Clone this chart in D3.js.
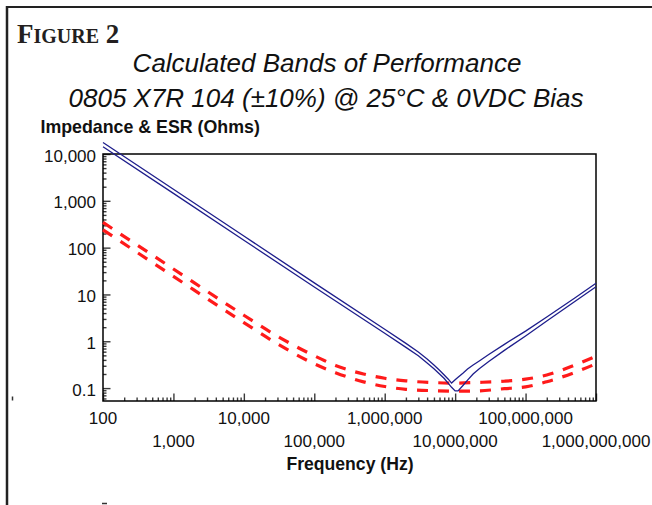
<!DOCTYPE html>
<html>
<head>
<meta charset="utf-8">
<script src="https://cdn.jsdelivr.net/npm/d3@7"></script>
<style>
  body { margin: 0; background: #fff; }
  svg { display: block; }
</style>
</head>
<body>
<div id="chart"></div>
<script>
const freqZ = [1e2, 1e3, 1e4, 1e5, 1e6, 2e6, 3e6, 4e6, 5e6, 6e6, 7e6, 8e6, 8.9e6, 1e7, 1.1e7,
  1.3e7, 1.5e7, 1.8e7, 2.2e7, 3e7, 5e7, 1e8, 2e8, 5e8, 1e9];
const zHigh = [17600, 1770, 177, 17.7, 1.8, 0.9, 0.59, 0.42, 0.31, 0.24, 0.19, 0.155, 0.128, 0.15, 0.17,
  0.21, 0.255, 0.31, 0.38, 0.52, 0.86, 1.65, 3.3, 8.4, 17.3];
const zLow = [14300, 1440, 144, 14.4, 1.48, 0.74, 0.49, 0.345, 0.26, 0.2, 0.16, 0.126, 0.104, 0.087, 0.087,
  0.115, 0.148, 0.2, 0.26, 0.37, 0.64, 1.3, 2.7, 7.06, 14.6];

// ESR bands
const freqEsr = [1e2, 1e3, 1e4, 3e4, 1e5, 2e5, 5e5, 1e6, 2e6, 5e6, 1e7, 2e7, 5e7, 1e8, 2e8, 5e8, 1e9];
const esrHigh = [345, 35, 3.6, 1.28, 0.49, 0.305, 0.2, 0.162, 0.143, 0.131, 0.128, 0.132, 0.14, 0.155, 0.19, 0.31, 0.48];
const esrLow = [240, 24.3, 2.5, 0.88, 0.33, 0.213, 0.136, 0.108, 0.094, 0.088, 0.086, 0.087, 0.097, 0.106, 0.137, 0.216, 0.33];

const xTicks = [1e2, 1e3, 1e4, 1e5, 1e6, 1e7, 1e8, 1e9];
const xLabels = ["100", "1,000", "10,000", "100,000", "1,000,000", "10,000,000", "100,000,000", "1,000,000,000"];
const yTicks = [0.1, 1, 10, 100, 1000, 10000];
const yLabels = ["0.1", "1", "10", "100", "1,000", "10,000"];

const width = 652, height = 505;
const plot = { left: 103, right: 596, top: 154, bottom: 401 };
const sans = "'Liberation Sans', Arial, Helvetica, sans-serif";

const svg = d3.select("#chart").append("svg")
  .attr("width", width)
  .attr("height", height);

// page frame
svg.append("line").attr("x1", 7).attr("x2", 7).attr("y1", 6).attr("y2", height)
  .attr("stroke", "#222").attr("stroke-width", 2.5);
svg.append("line").attr("x1", 6).attr("x2", width).attr("y1", 7).attr("y2", 7)
  .attr("stroke", "#222").attr("stroke-width", 2);
// stray marks
svg.append("line").attr("x1", 12.5).attr("x2", 12.5).attr("y1", 396.5).attr("y2", 400.5)
  .attr("stroke", "#333").attr("stroke-width", 1.5);
svg.append("line").attr("x1", 102).attr("x2", 107).attr("y1", 503.5).attr("y2", 503.5)
  .attr("stroke", "#333").attr("stroke-width", 1.5);

// FIGURE 2 heading
const fig = svg.append("text")
  .attr("x", 17).attr("y", 43)
  .attr("font-family", "'Liberation Serif', 'Times New Roman', serif")
  .attr("font-weight", "bold")
  .attr("fill", "#231f20");
fig.append("tspan").attr("font-size", 27).text("F");
fig.append("tspan").attr("font-size", 20).text("IGURE");
fig.append("tspan").attr("font-size", 27).text(" 2");

// titles
svg.append("text")
  .attr("x", 327).attr("y", 72)
  .attr("text-anchor", "middle")
  .attr("font-family", sans).attr("font-style", "italic").attr("font-size", 26)
  .attr("fill", "#111")
  .text("Calculated Bands of Performance");
svg.append("text")
  .attr("x", 326).attr("y", 107)
  .attr("text-anchor", "middle")
  .attr("font-family", sans).attr("font-style", "italic").attr("font-size", 26)
  .attr("fill", "#111")
  .text("0805 X7R 104 (\u00b110%) @ 25\u00b0C & 0VDC Bias");

svg.append("text")
  .attr("x", 40.5).attr("y", 132.5)
  .attr("font-family", sans).attr("font-weight", "bold").attr("font-size", 17.8)
  .attr("fill", "#111")
  .text("Impedance & ESR (Ohms)");

const x = d3.scaleLog().domain([1e2, 1e9]).range([plot.left, plot.right]);
const y = d3.scaleLog().domain([0.053, 10000]).range([plot.bottom, plot.top]);

// minor tick values
const xMinor = [];
for (let d = 1e2; d < 1e9; d *= 10) {
  for (let k = 2; k <= 9; k++) xMinor.push(d * k);
}
const yMinor = [];
for (let d = 0.01; d < 10000; d *= 10) {
  for (let k = 2; k <= 9; k++) {
    const v = d * k;
    if (v >= 0.053 && v <= 10000) yMinor.push(v);
  }
}

const tickColor = "#3a3a3a";

function styleAxis(g) {
  g.select(".domain").remove();
  g.selectAll(".tick line").attr("stroke", tickColor).attr("stroke-width", 1.4);
  g.selectAll(".tick text").remove();
}

svg.append("g")
  .attr("transform", `translate(0,${plot.bottom})`)
  .call(d3.axisBottom(x).tickValues(xMinor).tickSize(-3.5).tickFormat(""))
  .call(styleAxis);
svg.append("g")
  .attr("transform", `translate(0,${plot.bottom})`)
  .call(d3.axisBottom(x).tickValues(xTicks).tickSize(-7.5).tickFormat(""))
  .call(styleAxis);
svg.append("g")
  .attr("transform", `translate(${plot.left},0)`)
  .call(d3.axisLeft(y).tickValues(yMinor).tickSize(-3.5).tickFormat(""))
  .call(styleAxis);
svg.append("g")
  .attr("transform", `translate(${plot.left},0)`)
  .call(d3.axisLeft(y).tickValues(yTicks).tickSize(-7.5).tickFormat(""))
  .call(styleAxis);

// plot frame
svg.append("rect")
  .attr("x", plot.left).attr("y", plot.top)
  .attr("width", plot.right - plot.left).attr("height", plot.bottom - plot.top)
  .attr("fill", "none").attr("stroke", "#000").attr("stroke-width", 1.5);

// tick labels
svg.append("g").selectAll("text")
  .data(yTicks)
  .enter().append("text")
  .attr("x", 96)
  .attr("y", d => y(d) + 7.5)
  .attr("text-anchor", "end")
  .attr("font-family", sans).attr("font-size", 17)
  .attr("fill", "#111")
  .text((d, i) => yLabels[i]);

svg.append("g").selectAll("text")
  .data(xTicks)
  .enter().append("text")
  .attr("x", d => x(d))
  .attr("y", (d, i) => i % 2 === 0 ? 423.5 : 447)
  .attr("text-anchor", "middle")
  .attr("font-family", sans).attr("font-size", 17)
  .attr("fill", "#111")
  .text((d, i) => xLabels[i]);

svg.append("text")
  .attr("x", 350).attr("y", 469.5)
  .attr("text-anchor", "middle")
  .attr("font-family", sans).attr("font-weight", "bold").attr("font-size", 17.6)
  .attr("fill", "#111")
  .text("Frequency (Hz)");

// curves
const zLine = d3.line()
  .x(d => x(d[0]))
  .y(d => y(d[1]));
const esrLine = d3.line()
  .x(d => x(d[0]))
  .y(d => y(d[1]))
  .curve(d3.curveMonotoneX);

[esrHigh, esrLow].forEach(vals => {
  svg.append("path")
    .datum(freqEsr.map((f, i) => [f, vals[i]]))
    .attr("d", esrLine)
    .attr("fill", "none")
    .attr("stroke", "#ff1a1a")
    .attr("stroke-width", 3.2)
    .attr("stroke-dasharray", "11,10");
});

[zHigh, zLow].forEach(vals => {
  svg.append("path")
    .datum(freqZ.map((f, i) => [f, vals[i]]))
    .attr("d", zLine)
    .attr("fill", "none")
    .attr("stroke", "#1e1e8c")
    .attr("stroke-width", 1.3);
});
</script>
</body>
</html>
